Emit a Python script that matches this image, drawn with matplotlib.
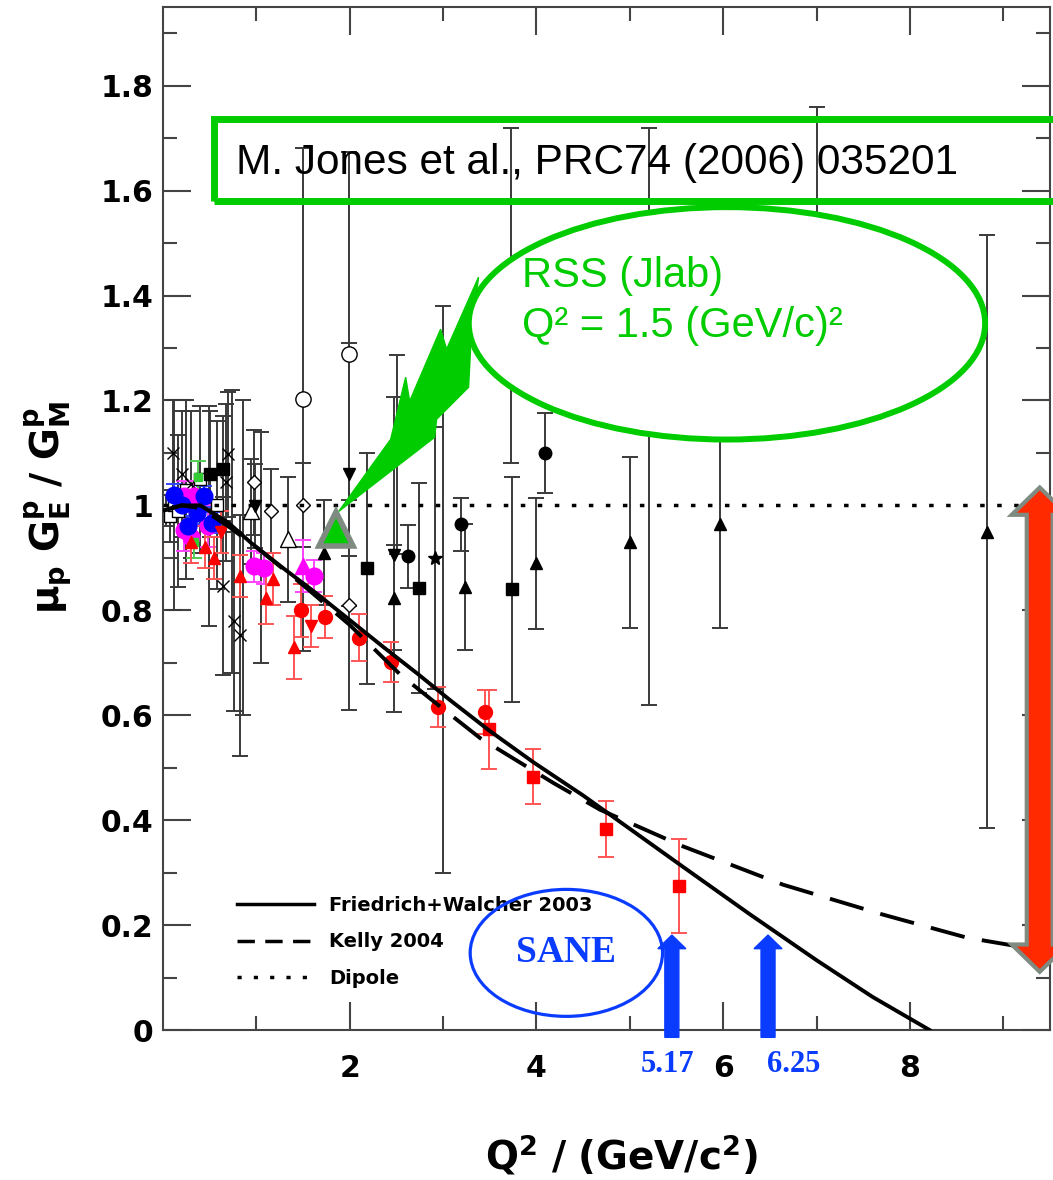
import numpy as np
import matplotlib.pyplot as plt
from matplotlib.patches import Ellipse, Rectangle, Polygon, FancyArrow
from matplotlib.lines import Line2D

# ---- curves ----
fw_q2 = [0.0, 0.2, 0.4, 0.7, 0.94, 1.29, 1.66, 2.01, 2.36, 2.72, 3.08, 3.5, 3.97, 4.5, 4.76, 5.53, 6.29, 7.0, 7.6, 8.21]
fw_val = [0.99, 1.0, 1.0, 0.967, 0.929, 0.880, 0.830, 0.780, 0.730, 0.680, 0.628, 0.570, 0.510, 0.447, 0.414, 0.316, 0.220, 0.133, 0.063, 0.0]
kelly_q2 = [0.0, 0.2, 0.4, 0.7, 1.0, 1.5, 2.0, 2.55, 3.0, 3.4, 4.18, 4.68, 5.57, 6.64, 7.71, 8.61, 9.14, 9.5]
kelly_val = [0.99, 1.0, 0.995, 0.96, 0.92, 0.848, 0.772, 0.676, 0.612, 0.556, 0.471, 0.42, 0.35, 0.277, 0.22, 0.176, 0.16, 0.15]

# ---- data sets (Q2, ratio, error) ----
cross_q2 = [0.11, 0.20, 0.30, 0.67, 0.70, 0.64, 0.76, 0.83]
cross_val = [1.10, 1.06, 1.04, 1.044, 1.097, 0.846, 0.779, 0.752]
cross_err = [0.10, 0.12, 0.14, 0.15, 0.12, 0.17, 0.17, 0.23]

osq_q2 = [0.03, 0.07, 0.12, 0.16, 0.25, 0.40, 0.58]
osq_val = [0.99, 0.98, 1.0, 0.99, 1.03, 1.05, 1.00]
osq_err = [0.03, 0.05, 0.20, 0.145, 0.17, 0.14, 0.16]

ocirc_q2 = [1.50, 1.99]
ocirc_val = [1.202, 1.288]
ocirc_err = [0.48, 0.385]

odiam_q2 = [0.97, 1.16, 1.50, 2.51, 1.99]
odiam_val = [1.044, 0.99, 1.0, 1.097, 0.81]
odiam_err = [0.10, 0.08, 0.08, 0.19, 0.20]

otri_q2 = [0.94, 1.34]
otri_val = [0.989, 0.935]
otri_err = [0.10, 0.12]

ftri_q2 = [1.72, 2.47, 3.23, 3.99, 5.0, 5.97, 8.82]
ftri_val = [0.91, 0.824, 0.845, 0.89, 0.93, 0.964, 0.95]
ftri_err = [0.10, 0.10, 0.12, 0.125, 0.163, 0.197, 0.565]

fsq_q2 = [0.50, 0.64, 2.18, 2.74, 3.74]
fsq_val = [1.06, 1.07, 0.88, 0.843, 0.84]
fsq_err = [0.12, 0.10, 0.22, 0.20, 0.215]

fcirc_q2 = [2.62, 3.19, 4.09]
fcirc_val = [0.903, 0.964, 1.10]
fcirc_err = [0.06, 0.05, 0.077]

dtri_q2 = [0.99, 1.99, 2.47]
dtri_val = [0.998, 1.059, 0.906]
dtri_err = [0.08, 0.25, 0.30]

star_q2 = [2.91]
star_val = [0.90]
star_err = [0.25]

# points whose markers sit under the annotations
hidden_q2 = [3.73, 5.2, 3.0, 7.0, 0.49, 0.74, 0.86, 1.05]
hidden_val = [1.40, 1.17, 0.84, 1.45, 0.98, 0.95, 0.90, 0.92]
hidden_err = [0.32, 0.55, 0.54, 0.31, 0.21, 0.27, 0.30, 0.22]

rcirc_q2 = [1.48, 1.74, 2.10, 2.44, 2.95, 3.45]
rcirc_val = [0.80, 0.788, 0.748, 0.702, 0.616, 0.607]
rcirc_err = [0.05, 0.04, 0.045, 0.038, 0.038, 0.042]

rsq_q2 = [3.49, 3.96, 4.74, 5.53]
rsq_val = [0.573, 0.483, 0.383, 0.275]
rsq_err = [0.075, 0.052, 0.053, 0.09]

rtri_q2 = [0.30, 0.45, 0.55, 0.83, 1.10, 1.18, 1.40]
rtri_val = [0.93, 0.92, 0.90, 0.865, 0.824, 0.86, 0.73]
rtri_err = [0.04, 0.04, 0.04, 0.04, 0.05, 0.05, 0.06]

rdtri_q2 = [0.62, 1.58]
rdtri_val = [0.95, 0.77]
rdtri_err = [0.04, 0.04]

mag_q2 = [0.22, 0.33, 0.48, 0.22, 0.30, 0.97, 1.08, 1.62]
mag_val = [1.017, 1.017, 0.96, 0.954, 0.94, 0.884, 0.88, 0.865]
mag_err = [0.03, 0.03, 0.04, 0.04, 0.05, 0.03, 0.03, 0.03]

magtri_q2 = [1.50]
magtri_val = [0.884]
magtri_err = [0.05]

blue_q2 = [0.12, 0.20, 0.27, 0.44, 0.53, 0.36]
blue_val = [1.02, 1.0, 0.96, 1.017, 0.967, 0.985]
blue_err = [0.02, 0.02, 0.02, 0.02, 0.02, 0.02]

green_q2 = [0.37, 0.33]
green_val = [1.055, 0.93]
green_err = [0.03, 0.03]

# annotation positions
sane_q2 = [5.17, 6.25]
sane_arrow_x = [5.45, 6.48]
rss_q2 = 1.85
rss_val = 0.955

plt.rcParams['font.family'] = ['DejaVu Sans']
fig = plt.figure(figsize=(10.53, 11.8), dpi=100)
ax = fig.add_axes([163 / 1053, 150 / 1180, 887 / 1053, 1023 / 1180])

gray = '#3a3a3a'
def eb(x, y, e, fmt, color, ecolor, ms, mfc=None, capsize=6, lw=1.4):
    ax.errorbar(x, y, yerr=e, fmt=fmt, color=color, ecolor=ecolor, ms=ms,
                mfc=mfc if mfc else color, mec=color, capsize=capsize,
                elinewidth=lw, capthick=lw, zorder=2)

eb(hidden_q2, hidden_val, hidden_err, 'none', gray, gray, 0)
eb(osq_q2, osq_val, osq_err, 's', 'black', gray, 8, mfc='white')
eb(cross_q2, cross_val, cross_err, 'x', 'black', gray, 9)
eb(ocirc_q2, ocirc_val, ocirc_err, 'o', 'black', gray, 11, mfc='white')
eb(odiam_q2, odiam_val, odiam_err, 'D', 'black', gray, 7, mfc='white')
eb(otri_q2, otri_val, otri_err, '^', 'black', gray, 11, mfc='white')
eb(ftri_q2, ftri_val, ftri_err, '^', 'black', gray, 9)
eb(fsq_q2, fsq_val, fsq_err, 's', 'black', gray, 9)
eb(fcirc_q2, fcirc_val, fcirc_err, 'o', 'black', gray, 9)
eb(dtri_q2, dtri_val, dtri_err, 'v', 'black', gray, 9)
eb(star_q2, star_val, star_err, '*', 'black', gray, 10)
eb(mag_q2, mag_val, mag_err, 'o', '#ff00ff', '#ff44ff', 12)
eb(magtri_q2, magtri_val, magtri_err, '^', '#ff00ff', '#ff44ff', 11)
eb(blue_q2, blue_val, blue_err, 'o', '#0000ff', '#3344ff', 12)
eb(green_q2, green_val, green_err, 's', '#33cc33', '#55cc55', 6)
eb(rcirc_q2, rcirc_val, rcirc_err, 'o', '#ff0000', '#ff5555', 10)
eb(rsq_q2, rsq_val, rsq_err, 's', '#ff0000', '#ff5555', 9)
eb(rtri_q2, rtri_val, rtri_err, '^', '#ff0000', '#ff5555', 9)
eb(rdtri_q2, rdtri_val, rdtri_err, 'v', '#ff0000', '#ff5555', 9)

ax.plot(fw_q2, fw_val, color='black', lw=2.8, zorder=4, solid_joinstyle='round')
ax.plot(kelly_q2, kelly_val, color='black', lw=2.8, dashes=(9, 4.5), zorder=4)
ax.axhline(1.0, color='black', lw=2.5, dashes=(1.3, 3.6), zorder=4)

ax.set_xlim(0, 9.5)
ax.set_ylim(0, 1.95)
ax.set_xticks([2, 4, 6, 8])
ax.set_xticks([1, 3, 5, 7, 9], minor=True)
ax.set_yticks(np.arange(0, 1.81, 0.2))
ax.set_yticks(np.arange(0.1, 1.91, 0.2), minor=True)
ax.set_yticklabels(['0', '0.2', '0.4', '0.6', '0.8', '1', '1.2', '1.4', '1.6', '1.8'])
ax.tick_params(which='both', direction='in', top=True, right=True, color='#444444', width=1.5)
ax.tick_params(which='major', length=20)
ax.tick_params(which='minor', length=10)
ax.tick_params(axis='y', labelsize=21.5, pad=7)
ax.tick_params(axis='x', labelsize=21.5, pad=17)
for lab in ax.get_xticklabels() + ax.get_yticklabels():
    lab.set_fontweight('bold')
for s in ax.spines.values():
    s.set_linewidth(1.5)
    s.set_color('#444444')

ax.set_xlabel(r'$\mathbf{Q^2\ /\ (GeV/c^2)}$', fontsize=28, va='center')
ax.xaxis.set_label_coords(0.517, -0.122)
ax.set_ylabel(r'$\mathbf{\mu_p\ G_E^p\ /\ G_M^p}$', fontsize=28, va='center')
ax.yaxis.set_label_coords(-0.129, 0.511)

# legend
handles = [Line2D([], [], color='black', lw=2.5),
           Line2D([], [], color='black', lw=2.5, dashes=(5, 3)),
           Line2D([], [], color='black', lw=2.5, dashes=(1.2, 3.5))]
leg = ax.legend(handles, ['Friedrich+Walcher 2003', 'Kelly 2004', 'Dipole'],
                loc='upper left', bbox_to_anchor=(0.083, 0.131), frameon=False,
                prop={'weight': 'bold', 'size': 14}, handlelength=4.0,
                handletextpad=0.75, labelspacing=0.9, borderpad=0, borderaxespad=0)
leg.set_zorder(5)

# Jones box
green = '#00cc00'
ax.add_patch(Rectangle((0.545, 1.58), 10.0, 0.157, fill=False, ec=green, lw=5,
                       clip_on=False, zorder=6))
ax.text(0.78, 1.632, 'M. Jones et al., PRC74 (2006) 035201', fontsize=30.5,
        family='Liberation Sans', va='baseline', zorder=7)

# RSS callout
bolt_px = [(338, 512), (390, 440), (405, 378), (409, 402), (440, 330), (446, 350),
           (478, 278), (471, 330), (468, 388), (436, 420), (434, 438)]
bolt = [((px - 162) / 93.5, (1030 - py) / 524) for px, py in bolt_px]
ax.add_patch(Polygon(bolt, closed=True, fc=green, ec=green, lw=1, zorder=6))
ax.add_patch(Ellipse((6.04, 1.347), 5.53, 0.443, fc='white', ec=green, lw=4.3, zorder=6))
ax.text(3.85, 1.416, 'RSS (Jlab)', color=green, fontsize=30, family='Liberation Sans',
        va='baseline', zorder=7)
ax.text(3.85, 1.321, 'Q² = 1.5 (GeV/c)²', color=green, fontsize=30,
        family='Liberation Sans', va='baseline', zorder=7)
ax.plot([rss_q2], [rss_val], marker='^', ms=24, mfc=green, mec='#7f8a80', mew=4, zorder=7)

# SANE
blue = '#0a3cff'
ax.add_patch(Ellipse((4.32, 0.147), 2.06, 0.242, fill=False, ec=blue, lw=2.3, zorder=6))
ax.text(4.32, 0.147, 'SANE', color=blue, fontsize=27, family='Liberation Serif',
        weight='bold', ha='center', va='center', zorder=7)
label_shift = [-0.05, 0.27]
for xa, lab, dx in zip(sane_arrow_x, sane_q2, label_shift):
    ax.add_patch(FancyArrow(xa, -0.014, 0, 0.195, width=0.15, head_width=0.30,
                            head_length=0.026, length_includes_head=True, color=blue,
                            clip_on=False, zorder=6))
    ax.text(xa + dx, -0.034, f'{lab:.2f}', color=blue,
            fontsize=22, family='Liberation Serif', weight='bold', ha='center',
            va='center', transform=ax.get_xaxis_transform())

# red double arrow
cx, top, bot = 9.39, 1.034, 0.111
hw, sw, hl = 0.30, 0.139, 0.052
arrow = [(cx, top), (cx + hw, top - hl), (cx + sw, top - hl), (cx + sw, bot + hl),
         (cx + hw, bot + hl), (cx, bot), (cx - hw, bot + hl), (cx - sw, bot + hl),
         (cx - sw, top - hl), (cx - hw, top - hl)]
ax.add_patch(Polygon(arrow, closed=True, fc='#ff2a00', ec='#7f8a80', lw=3,
                     clip_on=False, zorder=6))

fig.savefig('out.png', dpi=100)
